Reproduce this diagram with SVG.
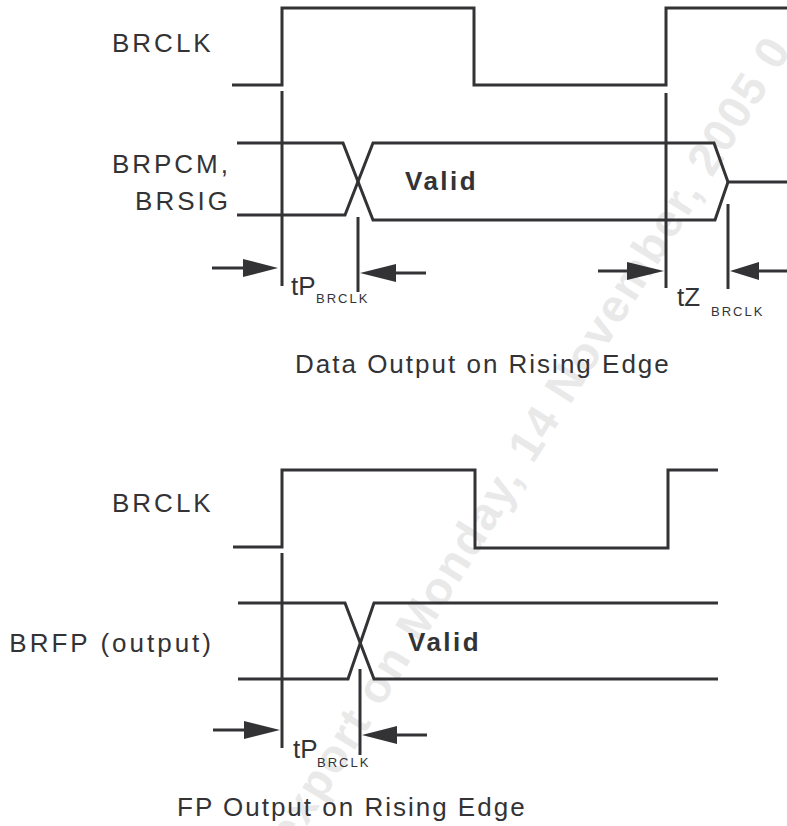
<svg xmlns="http://www.w3.org/2000/svg" width="787" height="826" viewBox="0 0 787 826">
<style>
.w{fill:none;stroke:#333336;stroke-width:3;stroke-linejoin:miter;stroke-linecap:butt}
.ah{fill:#333336;stroke:none}
.lbl{font-family:"Liberation Sans",Arial,sans-serif;font-size:26px;fill:#333336;letter-spacing:3px}
.val{font-family:"Liberation Sans",Arial,sans-serif;font-size:26px;font-weight:bold;fill:#333336;letter-spacing:2.5px}
.tt{font-family:"Liberation Sans",Arial,sans-serif;font-size:26px;fill:#333336;letter-spacing:2px}
.sub{font-family:"Liberation Sans",Arial,sans-serif;font-size:13px;fill:#333336;letter-spacing:2px}
.wm{font-family:"Liberation Sans",Arial,sans-serif;font-size:46px;font-weight:bold;fill:#e9e9e9;letter-spacing:2px}
</style>
<rect width="787" height="826" fill="#ffffff"/>
<text class="wm" transform="translate(292,850) rotate(-58)">export on Monday, 14 November, 2005 0</text>

<g id="top-brclk">
<text class="lbl" x="112" y="52">BRCLK</text>
<polyline class="w" points="232,85 282,85 282,8 474,8 474,85 666,85 666,8 787,8"/>
</g>
<g id="top-data">
<text class="lbl" x="231" y="173" text-anchor="end">BRPCM,</text>
<text class="lbl" x="231" y="210" text-anchor="end">BRSIG</text>
<polyline class="w" points="237,143 343,143 373,220 715,220 728,182 787,182"/>
<polyline class="w" points="237,215 345,215 373,143 714,143 728,182"/>
<text class="val" x="405" y="190">Valid</text>
</g>
<g id="top-timing">
<line class="w" x1="282" y1="91" x2="282" y2="286"/>
<line class="w" x1="358" y1="217" x2="358" y2="292"/>
<line class="w" x1="666" y1="93" x2="666" y2="288"/>
<line class="w" x1="728" y1="204" x2="728" y2="289"/>
<line class="w" x1="212" y1="268" x2="245" y2="268"/>
<polygon class="ah" points="278,268 243,259 243,277"/>
<line class="w" x1="394" y1="273" x2="426" y2="273"/>
<polygon class="ah" points="360,273 396,264 396,282"/>
<line class="w" x1="598" y1="271" x2="629" y2="271"/>
<polygon class="ah" points="664,271 627,262 627,280"/>
<line class="w" x1="757" y1="271" x2="787" y2="271"/>
<polygon class="ah" points="730,271 759,262 759,280"/>
<text class="tt" x="291" y="295" style="letter-spacing:0">tP</text>
<text class="sub" x="316" y="303">BRCLK</text>
<text class="tt" x="677" y="306" style="letter-spacing:0">tZ</text>
<text class="sub" x="711" y="316">BRCLK</text>
</g>
<text id="title1" class="tt" x="295" y="373">Data Output on Rising Edge</text>

<g id="bot-brclk">
<text class="lbl" x="112" y="512">BRCLK</text>
<polyline class="w" points="233,547 282,547 282,470 475,470 475,548 668,548 668,470 718,470"/>
</g>
<g id="bot-data">
<text class="lbl" x="214" y="652" text-anchor="end">BRFP (output)</text>
<polyline class="w" points="238,603 345,603 374,679 718,679"/>
<polyline class="w" points="238,679 348,679 374,603 718,603"/>
<text class="val" x="408" y="651">Valid</text>
</g>
<g id="bot-timing">
<line class="w" x1="282" y1="553" x2="282" y2="748"/>
<line class="w" x1="360" y1="669" x2="360" y2="755"/>
<line class="w" x1="213" y1="730" x2="246" y2="730"/>
<polygon class="ah" points="280,730 244,721 244,739"/>
<line class="w" x1="395" y1="735" x2="427" y2="735"/>
<polygon class="ah" points="362,735 397,726 397,744"/>
<text class="tt" x="293" y="758" style="letter-spacing:0">tP</text>
<text class="sub" x="317" y="767">BRCLK</text>
</g>
<text id="title2" class="tt" x="177" y="816">FP Output on Rising Edge</text>
</svg>
